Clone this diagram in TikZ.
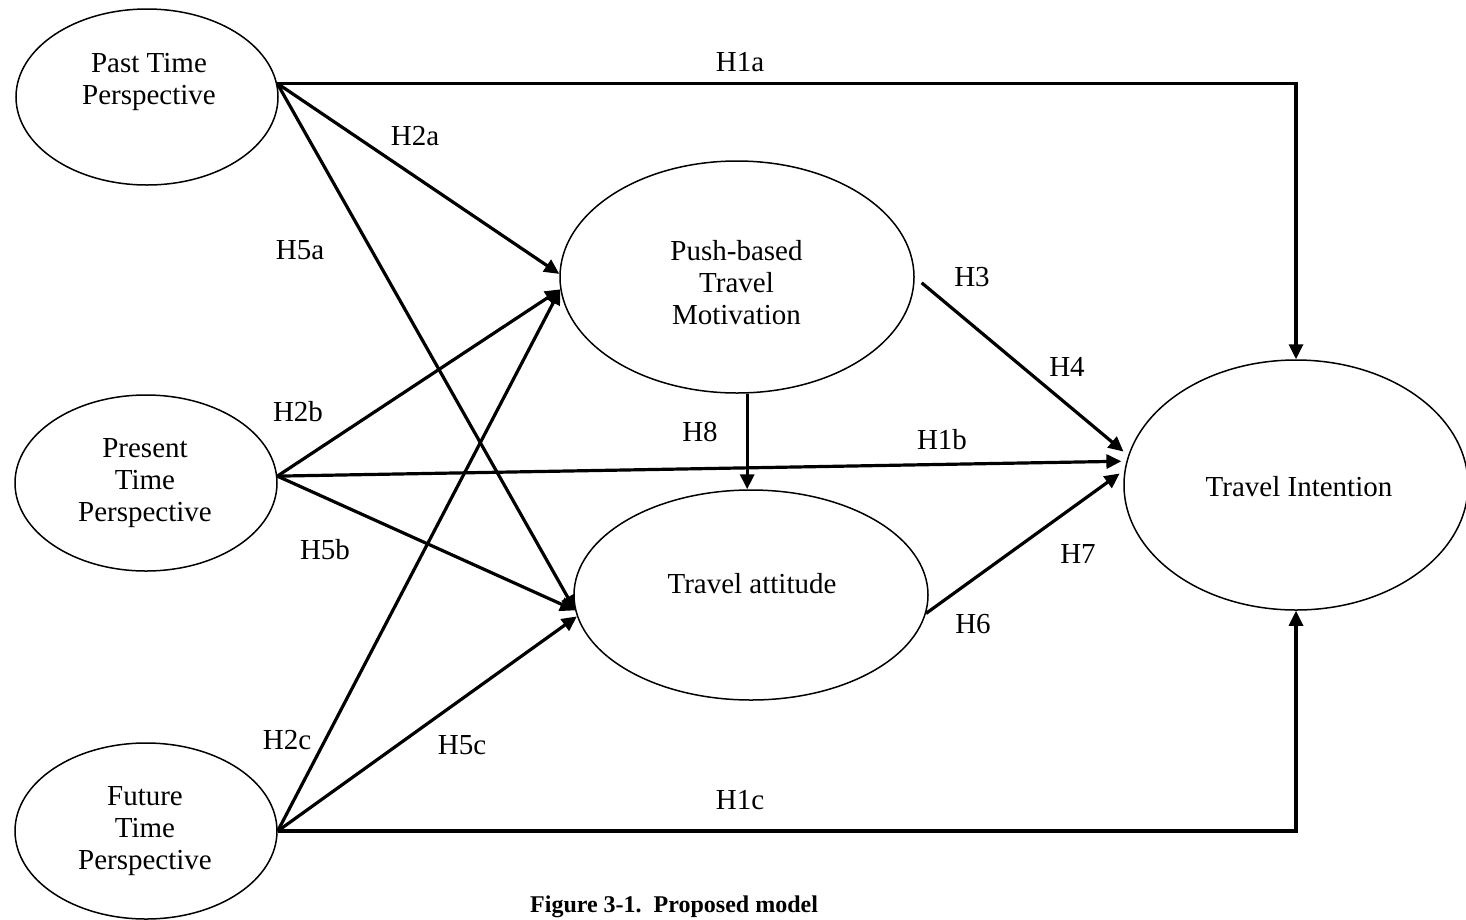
\documentclass[tikz,border=0pt]{standalone}
\usepackage{fontspec}
\setmainfont{Liberation Serif}
\usetikzlibrary{shapes.geometric,arrows.meta}
\begin{document}
\begin{tikzpicture}[x=1pt,y=-1pt,
  construct/.style={draw, ellipse, line width=1.5pt, inner sep=0pt},
  ctext/.style={align=center, font=\fontsize{29}{32}\selectfont, inner sep=0pt},
  hyp/.style={font=\fontsize{29}{32}\selectfont, inner sep=0pt},
  patharrow/.style={line width=3.2pt, -{Triangle[length=15pt,width=14pt]}},
  caption/.style={font=\fontsize{24}{28}\selectfont\bfseries, inner sep=0pt},
]
\useasboundingbox (0,0) rectangle (1466,919);
\clip (0,0) rectangle (1466,919);

% constructs
\node[construct, minimum width=262pt, minimum height=176pt] (past) at (147,97) {};
\node[construct, minimum width=262pt, minimum height=176pt] (pres) at (146,483) {};
\node[construct, minimum width=262pt, minimum height=176pt] (fut)  at (146,831) {};
\node[construct, minimum width=354pt, minimum height=232pt] (push) at (737,277) {};
\node[construct, minimum width=354pt, minimum height=210pt] (att)  at (751,595) {};
\node[construct, minimum width=344pt, minimum height=250pt] (ti)   at (1296,485) {};

% construct names
\node[ctext] (pastT) at (149,82) {Past Time\\Perspective};
\node[ctext] (presT) at (145,483.5) {Present\\Time\\Perspective};
\node[ctext] (futT)  at (145,831.5) {Future\\Time\\Perspective};
\node[ctext] (pushT) at (736.5,282.5) {Push-based\\Travel\\Motivation};
\node[hyp, anchor=base] (attT) at (752,593) {Travel attitude};
\node[hyp, anchor=base] (tiT)  at (1299,496) {Travel Intention};

% direct effects on intention
\draw[patharrow] (past.6) -| (ti.north);
\draw[patharrow] (fut.0) -| (ti.south);
\draw[patharrow, shorten >=5pt] (pres.3.5) -- (ti.172);

% time perspectives to motivation
\draw[patharrow] (past.6) -- (push.179);
\draw[patharrow] (pres.3.5) -- (push.184);
\draw[patharrow] (fut.0) -- (push.184);

% time perspectives to attitude
\draw[patharrow] (past.6) -- (att.185);
\draw[patharrow] (pres.3.5) -- (att.185);
\draw[patharrow] (fut.0) -- (att.187);

% mediators to intention
\draw[patharrow, shorten <=9pt, shorten >=6pt] (push.east) -- (ti.170);
\draw[patharrow, shorten >=6pt] (att.-6) -- (ti.175);
\draw[patharrow] (push.-85) -- (push.-85 |- att.north);

% hypothesis labels
\node[hyp] (h1a) at (740,62) {H1a};
\node[hyp] (h2a) at (415,136) {H2a};
\node[hyp] (h5a) at (300,250) {H5a};
\node[hyp] (h3)  at (972,277) {H3};
\node[hyp] (h4)  at (1067,367) {H4};
\node[hyp] (h8)  at (700,432) {H8};
\node[hyp] (h1b) at (942,440) {H1b};
\node[hyp] (h2b) at (298,412) {H2b};
\node[hyp] (h5b) at (325,550) {H5b};
\node[hyp] (h7)  at (1078,554) {H7};
\node[hyp] (h6)  at (973,624) {H6};
\node[hyp] (h2c) at (287,740) {H2c};
\node[hyp] (h5c) at (462,745) {H5c};
\node[hyp] (h1c) at (740,800) {H1c};

\node[caption, anchor=base west] (cap) at (530,912.5) {Figure 3-1.\ \ Proposed model};
\end{tikzpicture}
\end{document}
